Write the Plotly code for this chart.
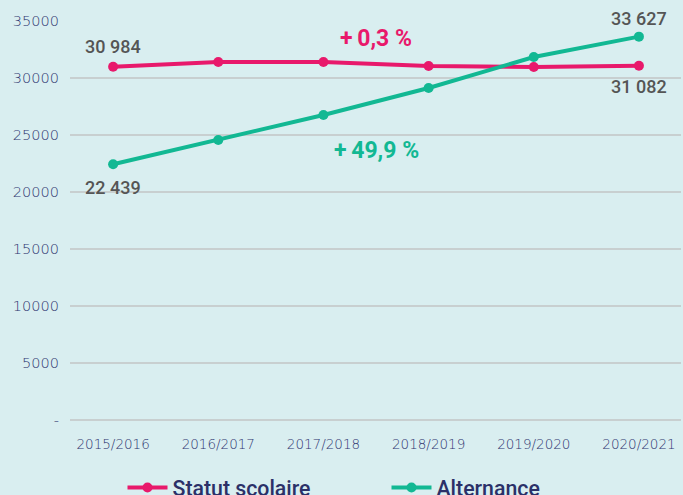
import plotly.graph_objects as go

years = ["2015/2016", "2016/2017", "2017/2018", "2018/2019", "2019/2020", "2020/2021"]
statut_scolaire = [30984, 31400, 31400, 31050, 30960, 31082]
alternance = [22439, 24560, 26750, 29120, 31840, 33627]
y_ticks = [0, 5000, 10000, 15000, 20000, 25000, 30000, 35000]
y_tick_labels = ["-", "5000", "10000", "15000", "20000", "25000", "30000", "35000"]

PINK = "#e8196b"
GREEN = "#12b893"
NAVY = "#2b3068"
TICK = "#2f3670"
GRAY = "#555555"
BG = "#d9eef0"

fig = go.Figure()
fig.add_trace(go.Scatter(x=years, y=statut_scolaire, name="Statut scolaire", mode="lines+markers",
                         line=dict(color=PINK, width=4), marker=dict(size=10, color=PINK)))
fig.add_trace(go.Scatter(x=years, y=alternance, name="Alternance", mode="lines+markers",
                         line=dict(color=GREEN, width=4), marker=dict(size=10, color=GREEN)))

ann_font = dict(family="Roboto, sans-serif", size=18, color=GRAY, weight=500)
annotations = [
    dict(x=years[0], y=statut_scolaire[0], text="30 984", yshift=20, showarrow=False, font=ann_font),
    dict(x=years[0], y=alternance[0], text="22 439", yshift=-23, showarrow=False, font=ann_font),
    dict(x=years[-1], y=alternance[-1], text="33 627", yshift=18, showarrow=False, font=ann_font),
    dict(x=years[-1], y=statut_scolaire[-1], text="31 082", yshift=-21, showarrow=False, font=ann_font),
    dict(x=2.5, y=33500, text="<b>+\u20090,3 %</b>", showarrow=False,
         font=dict(family="Roboto, sans-serif", size=23, color=PINK)),
    dict(x=2.5, y=23600, text="<b>+\u200949,9 %</b>", showarrow=False,
         font=dict(family="Roboto, sans-serif", size=23, color=GREEN)),
]
for a in annotations:
    a["xref"] = "x"
    a["yref"] = "y"

fig.update_layout(
    width=683, height=495,
    paper_bgcolor=BG, plot_bgcolor=BG,
    margin=dict(l=70, r=2, t=21, b=75, autoexpand=False),
    showlegend=True,
    legend=dict(orientation="h", x=0.518, xanchor="center", y=-0.118, yanchor="top",
                font=dict(family="Roboto, sans-serif", size=21.3, color=NAVY, weight=500),
                itemwidth=40, entrywidth=209, traceorder="normal", bgcolor="rgba(0,0,0,0)"),
    annotations=annotations,
    xaxis=dict(type="category", range=[-0.41, 5.4], showgrid=False, zeroline=False, showline=False,
               ticks="", ticklabelstandoff=14, automargin=False,
               tickfont=dict(family="DejaVu Sans, sans-serif", size=13.5, color=TICK, weight=300)),
    yaxis=dict(range=[0, 35000], tickvals=y_ticks, ticktext=y_tick_labels, showgrid=True,
               gridcolor="#c8cfd0", gridwidth=1.5, zeroline=True, zerolinecolor="#c8cfd0", zerolinewidth=1.5,
               showline=False, ticks="", ticklabelstandoff=10, automargin=False,
               tickfont=dict(family="DejaVu Sans, sans-serif", size=14.5, color=TICK, weight=300)),
)

fig.write_html("out.html", config={"displayModeBar": False},
               post_script="document.body.style.margin='0';document.body.style.padding='0';")
